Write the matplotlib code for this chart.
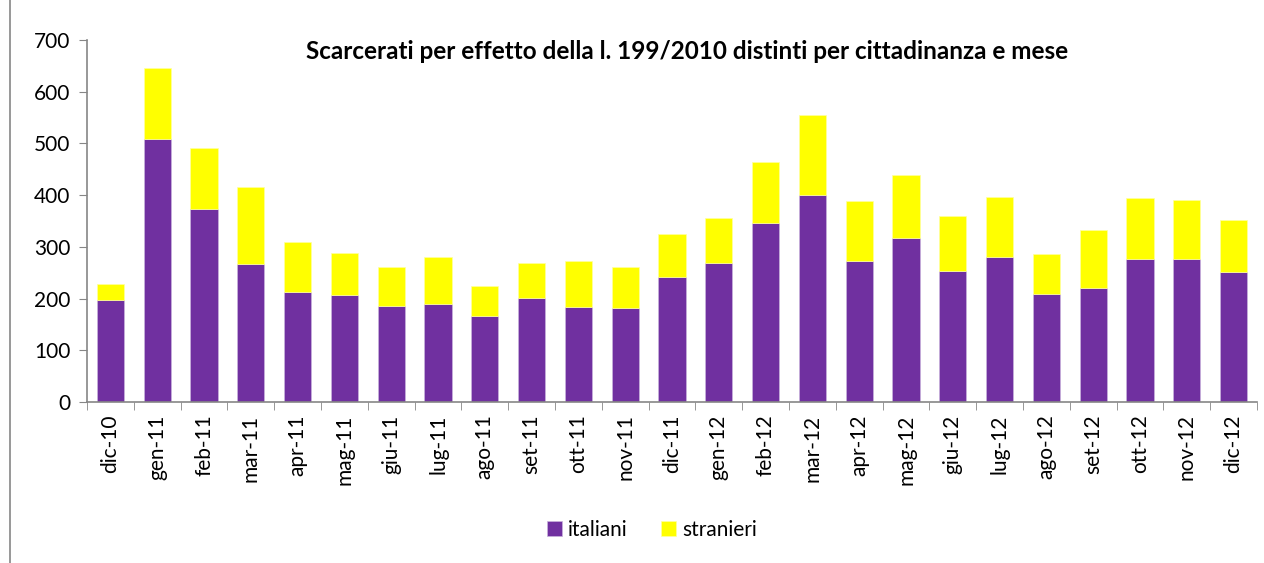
import numpy as np
import matplotlib.pyplot as plt
from matplotlib.lines import Line2D

mesi = ['dic-10', 'gen-11', 'feb-11', 'mar-11', 'apr-11', 'mag-11', 'giu-11', 'lug-11',
        'ago-11', 'set-11', 'ott-11', 'nov-11', 'dic-11', 'gen-12', 'feb-12', 'mar-12',
        'apr-12', 'mag-12', 'giu-12', 'lug-12', 'ago-12', 'set-12', 'ott-12', 'nov-12', 'dic-12']
italiani = [198, 509, 373, 266, 213, 207, 186, 189, 167, 201, 184, 182, 241, 268, 346, 400,
            272, 318, 254, 281, 209, 220, 276, 276, 252]
totale = [229, 645, 491, 415, 309, 288, 261, 281, 224, 268, 272, 261, 325, 356, 464, 555,
          388, 439, 360, 397, 287, 332, 394, 390, 351]
stranieri = [t - i for t, i in zip(totale, italiani)]

plt.rcParams['font.family'] = ['Lato', 'DejaVu Sans']

fig = plt.figure(figsize=(12.64, 5.63), dpi=100)
ax = fig.add_axes([87 / 1264, 1 - 402 / 563, 1170 / 1264, 362 / 563])

x = np.arange(len(mesi))
ax.bar(x, italiani, width=0.58, color='#7030A0', edgecolor='#c9b3dc', linewidth=0.5, label='italiani')
ax.bar(x, stranieri, width=0.58, bottom=italiani, color='#FFFF00', edgecolor='#ffffa0', linewidth=0.5, label='stranieri')

ax.set_xlim(-0.5, len(mesi) - 0.5)
ax.set_ylim(0, 700)
ax.set_yticks(range(0, 701, 100))
ax.tick_params(axis='y', labelsize=15, length=6, color='#868686', direction='out', pad=6)

ax.set_xticks(x)
ax.set_xticklabels(mesi, rotation=90, fontsize=15)
ax.set_xticks(np.arange(-0.5, len(mesi)), minor=True)
ax.tick_params(axis='x', which='major', length=0, pad=9)
ax.tick_params(axis='x', which='minor', length=6, color='#868686', direction='out')

for s in ['top', 'right']:
    ax.spines[s].set_visible(False)
for s in ['left', 'bottom']:
    ax.spines[s].set_color('#868686')
    ax.spines[s].set_linewidth(1.2)

ax.text(0.513, 1.0, 'Scarcerati per effetto della l. 199/2010 distinti per cittadinanza e mese',
        transform=ax.transAxes, ha='center', va='top', fontsize=17.5, fontweight='bold')

fig.legend(loc='center', bbox_to_anchor=(652 / 1264, 1 - 530 / 563), ncol=2, frameon=False,
           fontsize=15, handlelength=0.7, handleheight=0.7, handletextpad=0.3, columnspacing=1.6)

fig.add_artist(Line2D([10 / 1264, 10 / 1264], [0, 1], color='#868686', linewidth=1.2))

fig.savefig('out.png', dpi=100)
